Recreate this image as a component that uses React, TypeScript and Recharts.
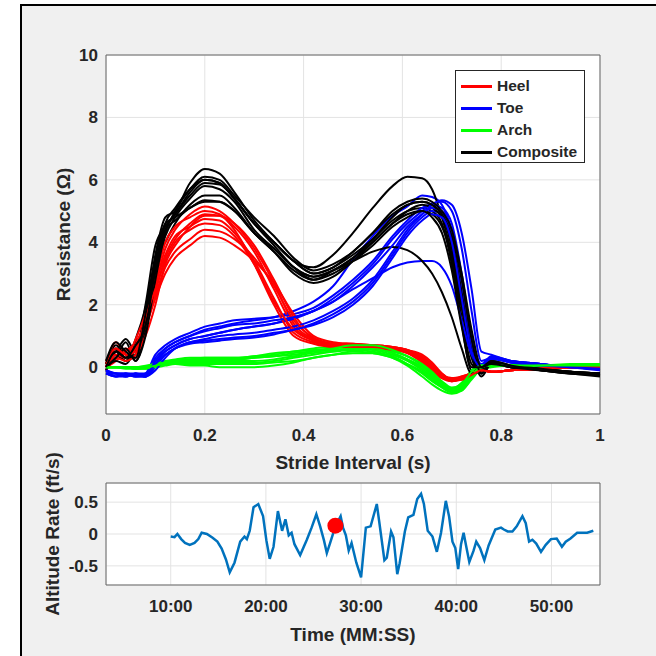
import React from 'react';
import {
  LineChart,
  Line,
  XAxis,
  YAxis,
  CartesianGrid,
  ReferenceArea,
  ComposedChart,
  Scatter,
  Label,
} from 'recharts';

// ---------- Stride data (top panel) ----------
const STRIDE_X = [
  0, 0.02, 0.04, 0.06, 0.08, 0.1, 0.12, 0.14, 0.17, 0.2, 0.23, 0.26, 0.3, 0.34, 0.38, 0.42, 0.46,
  0.5, 0.54, 0.58, 0.61, 0.64, 0.66, 0.68, 0.7, 0.72, 0.74, 0.76, 0.78, 0.82, 0.88, 0.94, 1.0,
];

const HEEL = [
  [0.0, 0.5, 0.2, 0.7, 1.5, 2.6, 3.8, 4.4, 4.9, 5.15, 5.0, 4.6, 3.8, 2.7, 1.4, 0.9, 0.75, 0.7, 0.7, 0.65, 0.55, 0.3, 0.0, -0.3, -0.4, -0.35, -0.25, -0.1, -0.15, -0.1, -0.05, 0.0, 0.0],
  [0.1, 0.8, 0.4, 0.3, 1.2, 2.4, 3.5, 4.1, 4.6, 4.9, 4.85, 4.5, 3.7, 2.5, 1.3, 0.85, 0.7, 0.75, 0.7, 0.6, 0.45, 0.15, -0.1, -0.35, -0.4, -0.3, -0.2, -0.1, -0.15, -0.1, -0.05, 0.0, 0.0],
  [-0.1, 0.3, 0.6, 0.5, 1.8, 2.7, 3.6, 4.2, 4.5, 4.75, 4.7, 4.3, 3.4, 2.2, 1.1, 0.8, 0.7, 0.7, 0.65, 0.6, 0.5, 0.25, -0.05, -0.3, -0.45, -0.4, -0.25, -0.1, -0.15, -0.1, -0.05, 0.0, 0.0],
  [0.0, 0.2, 0.5, 0.8, 1.4, 2.3, 3.2, 3.7, 4.1, 4.4, 4.35, 4.1, 3.5, 2.6, 1.5, 0.95, 0.75, 0.7, 0.7, 0.65, 0.55, 0.35, 0.1, -0.2, -0.4, -0.35, -0.2, -0.1, -0.15, -0.1, -0.05, 0.0, 0.0],
  [0.2, 0.6, 0.3, 0.6, 1.3, 2.2, 3.0, 3.5, 3.9, 4.2, 4.15, 3.9, 3.4, 2.7, 1.7, 1.0, 0.8, 0.75, 0.7, 0.6, 0.5, 0.3, 0.05, -0.25, -0.35, -0.3, -0.2, -0.1, -0.15, -0.1, -0.05, 0.0, 0.0],
  [0.0, 0.4, 0.3, 0.9, 1.7, 2.8, 4.0, 4.5, 4.8, 5.0, 4.9, 4.4, 3.3, 2.0, 1.0, 0.75, 0.65, 0.65, 0.6, 0.55, 0.45, 0.2, -0.1, -0.35, -0.45, -0.35, -0.2, -0.1, -0.15, -0.1, -0.05, 0.0, 0.0],
  [0.1, 0.3, 0.2, 0.4, 1.0, 2.0, 3.3, 3.9, 4.5, 4.85, 4.85, 4.6, 3.9, 2.8, 1.6, 0.9, 0.7, 0.7, 0.7, 0.65, 0.55, 0.4, 0.15, -0.2, -0.4, -0.4, -0.25, -0.1, -0.15, -0.1, -0.05, 0.0, 0.0],
  [0.0, 0.6, 0.4, 0.5, 1.6, 2.5, 3.4, 4.0, 4.4, 4.6, 4.55, 4.2, 3.3, 2.1, 1.2, 0.85, 0.7, 0.65, 0.65, 0.6, 0.5, 0.25, 0.0, -0.3, -0.45, -0.35, -0.25, -0.1, -0.15, -0.1, -0.05, 0.0, 0.0],
];

const TOE = [
  [-0.1, -0.2, -0.2, -0.25, -0.3, 0.3, 0.6, 0.8, 1.0, 1.2, 1.3, 1.4, 1.5, 1.6, 1.8, 2.1, 2.6, 3.45, 4.2, 4.85, 5.15, 5.5, 5.45, 5.2, 4.3, 2.4, 0.7, 0.0, 0.3, 0.2, 0.1, 0.0, -0.05],
  [-0.2, -0.2, -0.3, -0.2, -0.3, 0.1, 0.5, 0.7, 0.9, 1.0, 1.1, 1.2, 1.3, 1.4, 1.6, 1.8, 2.2, 2.7, 3.3, 4.1, 4.6, 5.0, 5.25, 5.3, 5.0, 3.8, 1.8, 0.2, 0.3, 0.2, 0.1, 0.0, -0.05],
  [-0.1, -0.3, -0.2, -0.3, -0.2, 0.4, 0.7, 0.9, 1.1, 1.3, 1.4, 1.5, 1.55, 1.6, 1.7, 1.9, 2.3, 2.8, 3.4, 4.2, 4.7, 5.1, 5.2, 5.1, 4.6, 3.0, 1.0, 0.1, 0.35, 0.2, 0.1, 0.0, -0.1],
  [-0.2, -0.2, -0.25, -0.3, -0.3, 0.0, 0.4, 0.6, 0.8, 0.85, 0.9, 0.95, 1.0, 1.1, 1.2, 1.4, 1.7, 2.1, 2.7, 3.6, 4.3, 4.8, 5.0, 4.9, 4.2, 2.4, 0.6, 0.0, 0.3, 0.15, 0.05, 0.0, -0.05],
  [-0.1, -0.2, -0.3, -0.2, -0.25, 0.2, 0.5, 0.7, 0.9, 1.0, 1.1, 1.2, 1.3, 1.4, 1.55, 1.8, 2.1, 2.5, 2.85, 3.2, 3.35, 3.4, 3.4, 3.2, 2.6, 1.5, 0.4, 0.0, 0.25, 0.15, 0.05, 0.0, -0.05],
  [-0.2, -0.3, -0.2, -0.3, -0.3, -0.1, 0.3, 0.6, 0.8, 0.9, 1.0, 1.05, 1.1, 1.2, 1.3, 1.5, 1.8, 2.2, 2.8, 3.7, 4.4, 4.9, 5.2, 5.35, 5.2, 4.3, 2.5, 0.5, 0.4, 0.2, 0.1, 0.0, -0.05],
  [-0.1, -0.2, -0.2, -0.2, -0.3, 0.2, 0.6, 0.8, 1.0, 1.15, 1.25, 1.35, 1.4, 1.5, 1.6, 1.8, 2.1, 2.6, 3.2, 3.9, 4.5, 4.9, 5.1, 5.0, 4.4, 2.8, 0.8, 0.0, 0.3, 0.2, 0.1, 0.0, -0.05],
  [-0.2, -0.3, -0.3, -0.2, -0.2, 0.1, 0.4, 0.6, 0.75, 0.8, 0.85, 0.9, 0.95, 1.05, 1.2, 1.35, 1.6, 2.0, 2.6, 3.5, 4.2, 4.7, 4.9, 4.8, 4.0, 2.2, 0.5, 0.0, 0.3, 0.15, 0.05, 0.0, -0.05],
];

const ARCH = [
  [0, 0, -0.05, -0.05, 0.0, 0.05, 0.15, 0.2, 0.25, 0.3, 0.3, 0.3, 0.35, 0.4, 0.5, 0.55, 0.6, 0.65, 0.6, 0.45, 0.25, -0.05, -0.3, -0.55, -0.7, -0.6, -0.2, 0.05, 0.05, 0.05, 0.05, 0.05, 0.05],
  [0, 0, 0, -0.05, -0.05, 0.0, 0.1, 0.15, 0.2, 0.2, 0.2, 0.2, 0.2, 0.25, 0.35, 0.45, 0.5, 0.55, 0.5, 0.35, 0.1, -0.2, -0.45, -0.65, -0.8, -0.7, -0.3, 0.0, 0.05, 0.05, 0.05, 0.1, 0.1],
  [0, 0, 0, 0, 0.0, 0.05, 0.1, 0.1, 0.05, 0.05, 0.0, 0.0, 0.0, 0.05, 0.15, 0.3, 0.4, 0.45, 0.45, 0.3, 0.1, -0.15, -0.4, -0.65, -0.8, -0.75, -0.35, -0.05, 0.0, 0.05, 0.05, 0.05, 0.05],
  [0, 0, 0, -0.05, 0.0, 0.1, 0.2, 0.25, 0.3, 0.3, 0.3, 0.3, 0.35, 0.45, 0.5, 0.6, 0.65, 0.7, 0.65, 0.5, 0.35, 0.05, -0.2, -0.5, -0.7, -0.5, -0.1, 0.05, 0.05, 0.05, 0.05, 0.05, 0.05],
  [0, 0, 0, 0, 0.0, 0.0, 0.05, 0.1, 0.1, 0.1, 0.1, 0.1, 0.1, 0.15, 0.2, 0.3, 0.4, 0.5, 0.45, 0.3, 0.05, -0.3, -0.55, -0.75, -0.85, -0.75, -0.4, -0.05, 0.05, 0.05, 0.05, 0.05, 0.05],
  [0, 0, 0, 0, 0.05, 0.1, 0.15, 0.2, 0.2, 0.25, 0.25, 0.25, 0.3, 0.35, 0.45, 0.5, 0.55, 0.6, 0.55, 0.4, 0.2, -0.1, -0.35, -0.6, -0.75, -0.65, -0.25, 0.0, 0.05, 0.05, 0.05, 0.05, 0.1],
  [0, 0, 0, -0.05, -0.05, 0.05, 0.1, 0.15, 0.15, 0.15, 0.15, 0.15, 0.15, 0.2, 0.3, 0.4, 0.5, 0.6, 0.6, 0.45, 0.25, 0.0, -0.25, -0.55, -0.75, -0.7, -0.3, 0.0, 0.05, 0.05, 0.05, 0.05, 0.05],
  [0, 0, 0, 0, 0.0, 0.05, 0.15, 0.2, 0.25, 0.25, 0.25, 0.25, 0.3, 0.35, 0.4, 0.5, 0.6, 0.7, 0.7, 0.55, 0.35, 0.1, -0.15, -0.45, -0.65, -0.55, -0.15, 0.05, 0.05, 0.05, 0.05, 0.05, 0.05],
];

const COMPOSITE = [
  [0.1, 0.7, 0.4, 0.3, 1.6, 3.6, 4.8, 5.0, 5.9, 6.35, 6.2, 5.6, 4.7, 4.0, 3.4, 3.0, 3.2, 3.6, 4.1, 4.7, 5.0, 5.1, 5.0, 4.6, 3.3, 1.4, -0.1, 0.0, 0.15, 0.05, -0.05, -0.15, -0.25],
  [0.0, 0.3, 0.8, 0.2, 1.2, 3.2, 4.6, 5.1, 5.7, 6.0, 5.9, 5.4, 4.6, 4.0, 3.4, 3.2, 3.6, 4.3, 5.1, 5.8, 6.1, 6.05, 5.7, 4.8, 3.6, 1.9, 0.3, -0.2, 0.1, 0.0, -0.1, -0.15, -0.2],
  [0.2, 0.5, 0.9, 0.5, 2.0, 3.9, 4.5, 4.9, 5.5, 5.9, 5.85, 5.4, 4.6, 3.9, 3.2, 2.8, 3.1, 3.5, 4.1, 4.8, 5.2, 5.3, 5.2, 4.9, 3.8, 2.0, 0.4, -0.2, 0.2, 0.0, -0.05, -0.15, -0.2],
  [0.0, 0.2, 0.1, 0.6, 1.4, 3.0, 4.2, 4.8, 5.4, 5.8, 5.7, 5.3, 4.4, 3.8, 3.2, 2.9, 3.1, 3.5, 4.0, 4.6, 4.9, 5.0, 4.9, 4.5, 3.5, 1.6, 0.1, -0.1, 0.1, 0.0, -0.1, -0.2, -0.25],
  [-0.1, 0.4, 0.2, 0.9, 1.9, 3.4, 4.0, 4.6, 5.2, 5.5, 5.5, 5.1, 4.3, 3.7, 3.0, 2.7, 2.9, 3.4, 4.0, 4.6, 5.0, 5.2, 5.1, 4.8, 4.0, 2.4, 0.6, -0.3, 0.1, 0.05, -0.05, -0.15, -0.2],
  [0.1, 0.6, 0.3, 0.4, 1.5, 3.3, 4.4, 4.7, 5.1, 5.3, 5.3, 5.0, 4.3, 3.8, 3.2, 2.9, 3.1, 3.4, 3.7, 3.85, 3.75, 3.4, 3.0, 2.4, 1.6, 0.6, -0.2, -0.1, 0.15, 0.0, -0.1, -0.15, -0.2],
  [0.0, 0.3, 0.6, 0.2, 1.0, 2.8, 4.3, 5.0, 5.7, 6.1, 6.0, 5.5, 4.8, 4.2, 3.5, 3.1, 3.3, 3.7, 4.3, 4.9, 5.2, 5.3, 5.2, 4.9, 4.2, 2.8, 0.9, -0.2, 0.2, 0.05, -0.1, -0.2, -0.3],
  [0.2, 0.8, 0.5, 0.3, 1.7, 3.5, 4.6, 4.8, 5.1, 5.35, 5.3, 5.0, 4.3, 3.7, 3.1, 2.8, 3.0, 3.4, 3.9, 4.5, 4.8, 5.0, 4.8, 4.3, 3.1, 1.3, 0.0, 0.0, 0.1, 0.0, -0.1, -0.2, -0.2],
  [0.0, 0.5, 0.3, 0.7, 1.3, 3.1, 4.4, 4.9, 5.6, 6.0, 5.9, 5.4, 4.6, 4.0, 3.4, 3.0, 3.2, 3.7, 4.3, 5.0, 5.3, 5.4, 5.3, 5.0, 4.4, 3.0, 1.2, 0.0, 0.2, 0.05, -0.05, -0.15, -0.25],
];

const STRIDE_X_TICKS = [0, 0.2, 0.4, 0.6, 0.8, 1];
const RESIST_TICKS = [0, 2, 4, 6, 8, 10];

// ---------- Altitude data (bottom panel), time in minutes ----------
const ALT_T = [
  10.0, 10.4, 10.7, 11.1, 11.5, 12.0, 12.5, 12.9, 13.25, 13.8, 14.4, 14.9, 15.35, 15.8, 16.2, 16.7,
  17.3, 17.75, 18.0, 18.3, 18.7, 19.2, 19.7, 20.05, 20.4, 20.8, 21.26, 21.7, 22.05, 22.4, 22.7, 23.0,
  23.6, 24.3, 24.8, 25.3, 25.7, 26.1, 26.4, 26.75, 27.3, 27.85, 28.1, 28.4, 28.7, 29.0, 29.5, 30.0,
  30.5, 31.0, 31.65, 31.9, 32.45, 32.7, 33.15, 33.4, 33.8, 34.05, 34.6, 34.95, 35.5, 35.9, 36.3, 36.6,
  37.0, 37.5, 37.96, 38.4, 38.9, 39.25, 39.6, 39.9, 40.2, 40.5, 40.77, 41.0, 41.37, 41.8, 42.1, 42.5,
  42.95, 43.4, 44.1, 44.7, 45.0, 45.4, 45.9, 46.35, 46.95, 47.3, 47.65, 48.0, 48.4, 48.9, 49.4, 49.95,
  50.55, 51.1, 51.5, 52.0, 52.7, 53.2, 53.75, 54.4,
];
const ALT_V = [
  -0.04, -0.05, 0.0, -0.08, -0.14, -0.17, -0.14, -0.08, 0.02, 0.0, -0.06, -0.12, -0.23, -0.4, -0.6, -0.45,
  -0.12, -0.04, -0.08, 0.05, 0.42, 0.47, 0.28, -0.1, -0.39, -0.2, 0.36, 0.05, 0.23, -0.02, 0.02, -0.16,
  -0.33, -0.09, 0.1, 0.31, 0.12, -0.1, -0.3, -0.14, 0.12, 0.28, 0.1, -0.02, -0.26, -0.14, -0.45, -0.68,
  0.1, 0.12, 0.47, 0.2, -0.41, -0.37, 0.04, -0.05, -0.63, -0.46, 0.04, 0.26, 0.3, 0.55, 0.63, 0.47,
  0.05, -0.04, -0.28, 0.02, 0.52, 0.27, -0.12, -0.22, -0.55, -0.16, 0.02, -0.16, -0.44, -0.27, -0.12, -0.22,
  -0.41, -0.18, 0.07, 0.1, 0.07, 0.04, 0.04, 0.12, 0.28, 0.17, -0.12, -0.09, -0.15, -0.28, -0.17, -0.08,
  -0.07, -0.2, -0.12, -0.07, 0.02, 0.02, 0.02, 0.05,
];
const CURRENT_T = [27.3];
const CURRENT_V = [0.13];
const TIME_TICKS = [10, 20, 30, 40, 50];
const ALT_TICKS = [-0.5, 0, 0.5];

const SENSORS = [
  { key: 'h', name: 'Heel', color: '#ff0000', values: HEEL },
  { key: 't', name: 'Toe', color: '#0000ff', values: TOE },
  { key: 'a', name: 'Arch', color: '#00ff00', values: ARCH },
  { key: 'c', name: 'Composite', color: '#000000', values: COMPOSITE },
];

const strideData = STRIDE_X.map((x, i) => {
  const row: Record<string, number> = { x };
  SENSORS.forEach((s) => s.values.forEach((curve, k) => (row[`${s.key}${k}`] = curve[i])));
  return row;
});

const altData = ALT_T.map((t, i) => ({ t, v: ALT_V[i] }));
const dotData = CURRENT_T.map((t, i) => ({ t, v: CURRENT_V[i] }));

const FONT = '"Liberation Sans", Arial, Helvetica, sans-serif';
const TXT = '#262626';
const tickStyle = { fill: TXT, fontSize: 17, fontWeight: 'bold', fontFamily: FONT };

const xLabel = (text: string, dy: number) => (props: any) => {
  const vb = props.viewBox || {};
  return (
    <text
      x={vb.x + vb.width / 2}
      y={vb.y + dy}
      textAnchor="middle"
      dominantBaseline="central"
      fill={TXT}
      fontSize={19}
      fontWeight="bold"
      fontFamily={FONT}
    >
      {text}
    </text>
  );
};

const yLabel = (text: string, dx: number) => (props: any) => {
  const vb = props.viewBox || {};
  const cx = vb.x + vb.width - dx;
  const cy = vb.y + vb.height / 2;
  return (
    <text
      x={cx}
      y={cy}
      transform={`rotate(-90 ${cx} ${cy})`}
      textAnchor="middle"
      dominantBaseline="central"
      fill={TXT}
      fontSize={19}
      fontWeight="bold"
      fontFamily={FONT}
    >
      {text}
    </text>
  );
};

function strideLines() {
  const out: React.ReactNode[] = [];
  const n = Math.max(...SENSORS.map((s) => s.values.length));
  for (let k = 0; k < n; k++) {
    SENSORS.forEach((s) => {
      if (k < s.values.length) {
        out.push(
          <Line
            key={`${s.key}${k}`}
            dataKey={`${s.key}${k}`}
            type="monotone"
            stroke={s.color}
            strokeWidth={2}
            dot={false}
            isAnimationActive={false}
          />
        );
      }
    });
  }
  return out;
}

export default function App() {
  return (
    <div style={{ position: 'absolute', left: 0, top: 0, width: 656, height: 656, background: '#fff', overflow: 'hidden' }}>
      <div
        style={{
          position: 'absolute',
          left: 20,
          top: 4,
          width: 700,
          height: 700,
          background: '#f0f0f0',
          borderLeft: '2px solid #000',
          borderTop: '2px solid #000',
        }}
      />
      <div style={{ position: 'absolute', left: 0, top: 0 }}>
        <LineChart width={656} height={480} data={strideData} margin={{ top: 55, right: 56, bottom: 36, left: 46 }}>
          <CartesianGrid stroke="#e3e3e3" fill="#ffffff" />
          <XAxis
            dataKey="x"
            type="number"
            domain={[0, 1]}
            ticks={STRIDE_X_TICKS}
            height={30}
            tick={tickStyle}
            tickLine={false}
            axisLine={false}
            tickMargin={9}
            tickFormatter={(v: number) => String(v)}
          >
            <Label content={xLabel('Stride Interval (s)', 48)} />
          </XAxis>
          <YAxis
            type="number"
            domain={[-1.5, 10]}
            ticks={RESIST_TICKS}
            width={60}
            tick={tickStyle}
            tickLine={false}
            axisLine={false}
            allowDataOverflow
          >
            <Label content={yLabel('Resistance (Ω)', 43)} />
          </YAxis>
          {strideLines()}
          <ReferenceArea x1={0} x2={1} y1={-1.5} y2={10} fill="none" stroke="#666" strokeWidth={1} ifOverflow="visible" />
        </LineChart>
      </div>
      <div
        style={{
          position: 'absolute',
          left: 455,
          top: 70,
          width: 130,
          height: 93,
          background: '#fff',
          border: '1px solid #262626',
          boxSizing: 'border-box',
        }}
      >
        {SENSORS.map((s, i) => (
          <div key={s.name} style={{ position: 'absolute', left: 0, top: 4 + i * 22, height: 22, width: 128 }}>
            <div style={{ position: 'absolute', left: 5, top: 10, width: 31, height: 3, background: s.color }} />
            <div
              style={{
                position: 'absolute',
                left: 41,
                top: 0,
                lineHeight: '22px',
                fontSize: 15.5,
                fontWeight: 'bold',
                fontFamily: FONT,
                color: TXT,
              }}
            >
              {s.name}
            </div>
          </div>
        ))}
      </div>
      <div style={{ position: 'absolute', left: 0, top: 420 }}>
        <ComposedChart width={656} height={236} data={altData} margin={{ top: 63, right: 56, bottom: 41, left: 46 }}>
          <CartesianGrid stroke="#e3e3e3" fill="#ffffff" />
          <XAxis
            dataKey="t"
            type="number"
            domain={[3.2, 55.1]}
            ticks={TIME_TICKS}
            height={30}
            tick={tickStyle}
            tickLine={false}
            axisLine={false}
            tickMargin={9}
            allowDataOverflow
            tickFormatter={(m: number) => `${m}:00`}
          >
            <Label content={xLabel('Time (MM:SS)', 49)} />
          </XAxis>
          <YAxis
            dataKey="v"
            type="number"
            domain={[-0.8, 0.8]}
            ticks={ALT_TICKS}
            width={60}
            tick={tickStyle}
            tickLine={false}
            axisLine={false}
            allowDataOverflow
          >
            <Label content={yLabel('Altitude Rate (ft/s)', 54)} />
          </YAxis>
          <Line dataKey="v" type="linear" stroke="#0072bd" strokeWidth={2.5} dot={false} isAnimationActive={false} />
          <Scatter
            data={dotData}
            dataKey="v"
            fill="#ff0000"
            isAnimationActive={false}
            shape={(p: any) => <circle cx={p.cx} cy={p.cy} r={8} fill="#ff0000" />}
          />
          <ReferenceArea x1={3.2} x2={55.1} y1={-0.8} y2={0.8} fill="none" stroke="#666" strokeWidth={1} ifOverflow="visible" />
        </ComposedChart>
      </div>
    </div>
  );
}
